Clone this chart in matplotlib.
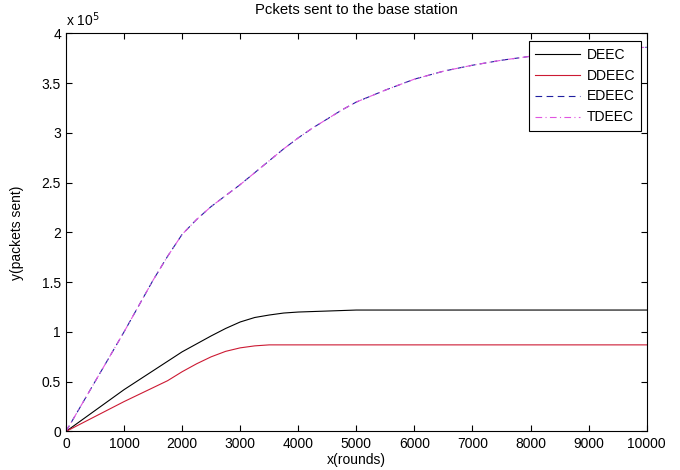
from matplotlib import pyplot as plt
from matplotlib.ticker import FuncFormatter

plt.rcParams['font.family'] = ['Liberation Sans', 'DejaVu Sans']
plt.rcParams['font.size'] = 10

rounds = [0, 250, 500, 750, 1000, 1250, 1500, 1750, 2000, 2250, 2500,
          2750, 3000, 3250, 3500, 3750, 4000, 4250, 4500, 4750, 5000,
          5500, 6000, 6500, 7000, 7500, 8000, 8500, 9000, 9500, 10000]

# packets sent, in units of 1e5
deec_y = [0, 0.105, 0.21, 0.315, 0.42, 0.515, 0.61, 0.705, 0.80, 0.88, 0.96,
          1.035, 1.10, 1.145, 1.17, 1.19, 1.20, 1.205, 1.21, 1.215, 1.22,
          1.22, 1.22, 1.22, 1.22, 1.22, 1.22, 1.22, 1.22, 1.22, 1.22]
ddeec_y = [0, 0.075, 0.15, 0.225, 0.30, 0.37, 0.44, 0.51, 0.60, 0.68, 0.75,
           0.805, 0.84, 0.86, 0.87, 0.87, 0.87, 0.87, 0.87, 0.87, 0.87,
           0.87, 0.87, 0.87, 0.87, 0.87, 0.87, 0.87, 0.87, 0.87, 0.87]
edeec_y = [0, 0.25, 0.50, 0.75, 1.00, 1.26, 1.52, 1.76, 1.98, 2.13, 2.26,
           2.37, 2.48, 2.60, 2.72, 2.84, 2.95, 3.05, 3.14, 3.23, 3.31,
           3.43, 3.54, 3.62, 3.68, 3.73, 3.77, 3.81, 3.83, 3.85, 3.86]
tdeec_y = [0, 0.25, 0.50, 0.75, 1.00, 1.26, 1.52, 1.76, 1.98, 2.13, 2.26,
           2.37, 2.48, 2.60, 2.72, 2.84, 2.95, 3.05, 3.14, 3.23, 3.31,
           3.43, 3.54, 3.62, 3.68, 3.73, 3.77, 3.81, 3.83, 3.85, 3.86]

scale = 1e5

fig = plt.figure(figsize=(6.8, 4.7), dpi=100)
ax = fig.add_axes([0.097, 0.082, 0.854, 0.847])

ax.plot(rounds, [v * scale for v in deec_y], color='k', lw=0.8, label='DEEC')
ax.plot(rounds, [v * scale for v in ddeec_y], color='#cc1a33', lw=0.8, label='DDEEC')
ax.plot(rounds, [v * scale for v in edeec_y], color='#2020a0', lw=0.8,
        linestyle=(0, (6, 4)), label='EDEEC')
ax.plot(rounds, [v * scale for v in tdeec_y], color='#e055e0', lw=0.8,
        linestyle=(0, (6, 3, 1, 3)), label='TDEEC')

ax.set_xlim(0, 10000)
ax.set_ylim(0, 4e5)
ax.set_xticks(range(0, 10001, 1000))
ax.set_yticks([i * 0.5e5 for i in range(9)])
ax.yaxis.set_major_formatter(FuncFormatter(lambda v, p: '%g' % (v / scale)))
ax.tick_params(direction='in', top=True, right=True, length=4, width=0.8)
ax.tick_params(axis='x', pad=4)
for s in ax.spines.values():
    s.set_linewidth(0.8)

ax.text(0.0, 1.012, 'x 10$^5$', transform=ax.transAxes, ha='left', va='bottom')

ax.set_title('Pckets sent to the base station', pad=14, fontsize=10.7)
ax.set_xlabel('x(rounds)', labelpad=1.5)
ax.set_ylabel('y(packets sent)', labelpad=13)

leg = ax.legend(loc='upper right', fancybox=False, framealpha=1, edgecolor='k',
                handlelength=3.2, borderpad=0.45, labelspacing=0.5,
                handletextpad=0.5, borderaxespad=0,
                bbox_to_anchor=(0.991, 0.98))
leg.get_frame().set_linewidth(0.8)

fig.savefig('out.png', dpi=100)
